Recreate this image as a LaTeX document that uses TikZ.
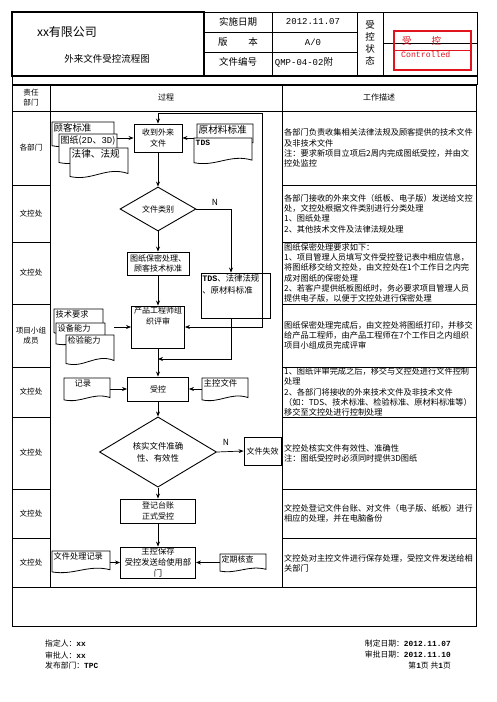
\documentclass[tikz,border=0pt]{standalone}
\usepackage{fontspec}
\setmainfont{Noto Sans CJK SC}
\newfontfamily\monof{Liberation Mono}
\usetikzlibrary{arrows.meta,calc,shapes.geometric}
\definecolor{stampred}{RGB}{225,20,30}
\newcommand{\myfs}[2]{\fontsize{#1}{#2}\selectfont}
\tikzset{
  tline/.style={line width=0.8pt},
  box/.style={draw, line width=0.9pt, rectangle, inner sep=0pt, align=center, font=\myfs{8}{10.5}},
  dia/.style={draw, diamond, line width=0.9pt, inner sep=0pt, align=center, font=\myfs{8}{11}},
  arr/.style={line width=0.7pt, -{Stealth[length=5pt,width=4pt]}},
  arrboth/.style={line width=0.7pt, {Stealth[length=5pt,width=4pt]}-{Stealth[length=5pt,width=4pt]}},
  docline/.style={draw, fill=white, line width=0.8pt},
  docbox/.style={draw=none, rectangle, inner sep=0pt},
  doctext/.style={anchor=north west, inner sep=1.5pt, align=left, font=\myfs{8}{10}},
  desc/.style={anchor=west, align=left, inner sep=0pt, font=\myfs{8.2}{10.3}},
  lab/.style={align=center, inner sep=0pt, font=\myfs{7.6}{10}},
  hd/.style={inner sep=0pt, font=\myfs{9.5}{11}},
  foot/.style={inner sep=0pt, font=\myfs{7.8}{10}},
}
% #1 name, #2 x, #3 y (top), #4 width, #5 height, #6 text
\newcommand{\docu}[6]{%
  \path[docline] (#2,#3) -- ({#2+#4},#3) -- ({#2+#4},{#3+0.85*#5})
    .. controls ({#2+0.62*#4},{#3+0.6*#5}) and ({#2+0.38*#4},{#3+1.12*#5}) .. (#2,{#3+0.95*#5}) -- cycle;
  \node[docbox, minimum width=#4pt, minimum height=#5pt] (#1) at ({#2+#4/2},{#3+#5/2}) {};
  \node[doctext] at (#2,#3) {#6};
}
\begin{document}
\begin{tikzpicture}[x=1pt,y=-1pt]
\useasboundingbox (0,0) rectangle (496,702);
\fill[white] (0,0) rectangle (496,702);

% ---------------- header ----------------
\draw[line width=1.3pt] (12,12) rectangle (204,76);
\draw[tline] (204,12) -- (477,12) -- (477,76);
\draw[tline] (204,32) -- (357,32) (204,52) -- (357,52);
\draw[tline] (272,12) -- (272,76) (357,12) -- (357,76) (383,12) -- (383,76);
\draw[tline] (383,43) -- (477,43);
\draw[line width=1.3pt] (12,76) -- (477,76);
\draw[tline] (12,76) -- (12,84) -- (477,84) -- (477,76);

\node[inner sep=0pt, font=\myfs{12}{14}] (co) at (67,32) {xx有限公司};
\node[inner sep=0pt, font=\myfs{9.5}{11}] (title) at (107,59) {外来文件受控流程图};
\node[hd] (h1) at (238,22) {实施日期};
\node[hd] (h2) at (238,42) {版\hspace{2.2em}本};
\node[hd] (h3) at (238,62) {文件编号};
\node[hd, font=\monof\myfs{9}{11}] (v1) at (313,22) {2012.11.07};
\node[hd, font=\monof\myfs{9}{11}] (v2) at (313,42) {A/0};
\node[hd] (v3) at (304,62) {{\monof\myfs{9}{11}QMP-04-02}附};
\node[align=center, inner sep=0pt, font=\myfs{9.5}{12}] (st) at (370,43) {受\\控\\状\\态};

\draw[stampred, line width=1.5pt] (394,31) rectangle (471,70);
\draw[stampred, line width=1pt] (394,50) -- (471,50);
\node[inner sep=0pt, text=stampred, font=\myfs{9.5}{11}, anchor=west] (s1) at (402,41) {受\hspace{2.1em}控};
\node[inner sep=0pt, text=stampred, font=\monof\myfs{8.2}{10}, anchor=west] (s2) at (401,55) {Controlled};

% ---------------- main table ----------------
\draw[tline] (12,85) rectangle (476,626);
\draw[tline] (50,85) -- (50,587) (282,85) -- (282,587);
\draw[tline] (12,111) -- (476,111) (12,587) -- (476,587);
\foreach \yy in {185,242,304,367,417,489,538}{
  \draw[tline] (12,\yy) -- (50,\yy) (282,\yy) -- (476,\yy);
}
\node[lab] (th1) at (31,98) {责任\\部门};
\node[lab, font=\myfs{8}{10}] (th2) at (166,97) {过程};
\node[lab, font=\myfs{8}{10}] (th3) at (379,97) {工作描述};

\node[lab] (r1) at (31,148) {各部门};
\node[lab] (r2) at (31,213.5) {文控处};
\node[lab] (r3) at (31,273) {文控处};
\node[lab] (r4) at (31,335.5) {项目小组\\成员};
\node[lab] (r5) at (31,392) {文控处};
\node[lab] (r6) at (31,453) {文控处};
\node[lab] (r7) at (31,513.5) {文控处};
\node[lab] (r8) at (31,562.5) {文控处};

% descriptions
\node[desc] (d1t) at (284,148) {各部门负责收集相关法律法规及顾客提供的技术文件\\及非技术文件\\注：要求新项目立项后2周内完成图纸受控，并由文\\控处监控};
\node[desc] (d2t) at (284,213.5) {各部门接收的外来文件（纸板、电子版）发送给文控\\处，文控处根据文件类别进行分类处理\\1、图纸处理\\2、其他技术文件及法律法规处理};
\node[desc] (d3t) at (284,273) {图纸保密处理要求如下：\\1、项目管理人员填写文件受控登记表中相应信息，\\将图纸移交给文控处，由文控处在1个工作日之内完\\成对图纸的保密处理\\2、若客户提供纸板图纸时，务必要求项目管理人员\\提供电子版，以便于文控处进行保密处理};
\node[desc] (d4t) at (284,335.5) {图纸保密处理完成后，由文控处将图纸打印，并移交\\给产品工程师，由产品工程师在7个工作日之内组织\\项目小组成员完成评审};
\node[desc] (d5t) at (284,392) {1、图纸评审完成之后，移交与文控处进行文件控制\\处理\\2、各部门将接收的外来技术文件及非技术文件\\（如：TDS、技术标准、检验标准、原材料标准等）\\移交至文控处进行控制处理};
\node[desc] (d6t) at (284,453.5) {文控处核实文件有效性、准确性\\注：图纸受控时必须同时提供3D图纸};
\node[desc] (d7t) at (284,513.5) {文控处登记文件台账、对文件（电子版、纸板）进行\\相应的处理，并在电脑备份};
\node[desc] (d8t) at (284,563) {文控处对主控文件进行保存处理，受控文件发送给相\\关部门};

% ---------------- process flow ----------------
\node[box, minimum width=48pt, minimum height=28pt] (recv) at (158,138) {收到外来\\文件};
\node[dia, minimum width=76pt, minimum height=44pt] (dA) at (158,209) {文件类别};
\node[box, minimum width=62pt, minimum height=23pt] (secret) at (158,263.5) {图纸保密处理、\\顾客技术标准};
\node[box, minimum width=53pt, minimum height=42pt] (review) at (158,327) {};
\node[anchor=north, inner sep=1.5pt, align=center, font=\myfs{8}{10.5}] (reviewt) at (review.north) {产品工程师组\\织评审};
\node[box, minimum width=61pt, minimum height=24pt] (ctrl) at (158,389) {受控};
\node[dia, minimum width=117pt, minimum height=62pt, font=\myfs{8.4}{12}] (dB) at (158,452) {核实文件准确\\性、有效性};
\node[box, minimum width=37pt, minimum height=28pt] (invalid) at (262.5,451) {文件失效};
\node[box, minimum width=75pt, minimum height=24pt] (reg) at (158,511) {登记台账\\正式受控};
\node[box, minimum width=75pt, minimum height=31pt, font=\myfs{8.3}{10.8}] (keep) at (158,562.5) {主控保存\\受控发送给使用部\\门};
\node[draw, line width=0.9pt, rectangle, inner sep=0pt, minimum width=69pt, minimum height=45pt] (tds2) at (235.5,295.5) {};
\node[doctext, font=\myfs{8.4}{12}] (tds2t) at (tds2.north west) {{\monof\bfseries TDS}、法律法规\\、原材料标准};

% documents
\docu{guke}{52}{122}{62}{25}{\myfs{9.4}{11}顾客标准}
\docu{tuzhi}{59}{134}{58}{30}{\myfs{9}{11}图纸({\monof 2D}、{\monof 3D})}
\docu{falv}{70}{148}{58}{30}{\myfs{9.6}{11}法律、法规}
\docu{ycl}{197}{124}{56}{22}{\myfs{9.6}{11}原材料标准}
\docu{tds1}{194}{138}{58}{26}{\monof\bfseries\myfs{8}{10}TDS}
\docu{jsyq}{54}{309}{49}{25}{\myfs{8.2}{10}技术要求}
\docu{sbnl}{56}{323}{49}{22}{\myfs{8.2}{10}设备能力}
\docu{jynl}{66}{335}{48}{30}{\myfs{8.2}{10}检验能力}
\docu{jilu}{64}{378}{46}{23}{\myfs{8.2}{10}\hspace{9pt}记录}
\docu{zhukong}{202}{378}{46}{23}{\myfs{8.4}{10}主控文件}
\docu{wjcl}{52}{551}{58}{22}{\myfs{8.2}{10}文件处理记录}
\docu{dqhc}{220}{554}{46}{18}{\myfs{8}{10}定期核查}

% connectors
\coordinate (loopTop) at (262,113);
\coordinate (join) at (158,359);
\draw[arr] (recv.south) -- (dA.north);
\draw[arr] (dA.south) -- (secret.north);
\draw[arr] (dA.east) -| ([xshift=-4.5pt]tds2.north);
\node[inner sep=0pt, font=\myfs{8.5}{10}] (nA) at (215,202) {N};
\draw[arr] (secret.south) -- (review.north);
\draw[arr] (review.south) -- (ctrl.north);
\draw[arr] ([xshift=-4.5pt]tds2.south) |- (join);
\draw[arrboth] (review.east) -| (loopTop) -| (recv.north);
\draw[arr] (ctrl.south) -- (dB.north);
\draw[arr] (dB.east) -- (invalid.west);
\node[inner sep=0pt, font=\myfs{8.5}{10}] (nB) at (226,442) {N};
\draw[arr] (dB.south) -- (reg.north);
\draw[arr] (reg.south) -- (keep.north);

\draw[arr] (tuzhi.east |- recv.west) -- (recv.west);
\draw[arr] (tds1.west |- recv.east) -- (recv.east);
\draw[arr] (jynl.east |- review.west) -- (review.west);
\draw[arr] (jilu.east |- ctrl.west) -- (ctrl.west);
\draw[arr] (zhukong.west |- ctrl.east) -- (ctrl.east);
\draw[arr] (wjcl.east |- keep.west) -- (keep.west);
\draw[arr] (dqhc.west |- keep.east) -- (keep.east);

% ---------------- footer ----------------
\node[foot, anchor=west] (f1) at (45,644) {指定人：{\monof\bfseries xx}};
\node[foot, anchor=west] (f2) at (45,655) {审批人：{\monof\bfseries xx}};
\node[foot, anchor=west] (f3) at (45,666) {发布部门：{\monof\bfseries TPC}};
\node[foot, anchor=east] (f4) at (451,644) {制定日期：{\monof\bfseries 2012.11.07}};
\node[foot, anchor=east] (f5) at (451,655) {审批日期：{\monof\bfseries 2012.11.10}};
\node[foot, anchor=east] (f6) at (451,666) {第{\monof\bfseries 1}页 共{\monof\bfseries 1}页};
\end{tikzpicture}
\end{document}
